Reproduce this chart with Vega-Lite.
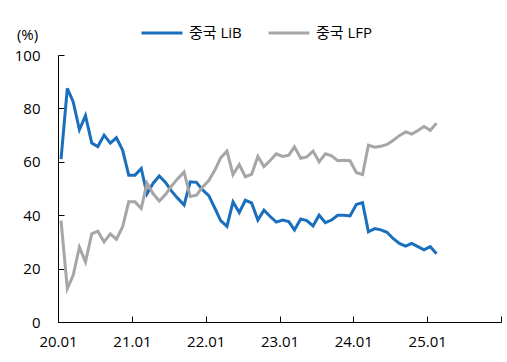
{
  "$schema": "https://vega.github.io/schema/vega-lite/v6.json",
  "width": 443,
  "height": 267,
  "autosize": {"type": "none"},
  "padding": {"left": 58, "top": 55, "right": 6, "bottom": 40},
  "config": {
    "font": "Open Sans, Noto Sans CJK KR",
    "view": {"stroke": null},
    "axis": {"domainColor": "#000000", "tickColor": "#000000", "labelColor": "#000000", "titleColor": "#000000", "grid": false, "domainWidth": 1, "tickWidth": 1}
  },
  "data": {
    "values": [
      {"month": "2020-01-16", "LiB": 61, "LFP": 38},
      {"month": "2020-02-16", "LiB": 87.5, "LFP": 12.5},
      {"month": "2020-03-16", "LiB": 82.5, "LFP": 17.5},
      {"month": "2020-04-16", "LiB": 72, "LFP": 28},
      {"month": "2020-05-16", "LiB": 77.3, "LFP": 22.5},
      {"month": "2020-06-16", "LiB": 67, "LFP": 33},
      {"month": "2020-07-16", "LiB": 65.7, "LFP": 34},
      {"month": "2020-08-16", "LiB": 70, "LFP": 30},
      {"month": "2020-09-16", "LiB": 67, "LFP": 33},
      {"month": "2020-10-16", "LiB": 69, "LFP": 31},
      {"month": "2020-11-16", "LiB": 64.3, "LFP": 35.7},
      {"month": "2020-12-16", "LiB": 55, "LFP": 45},
      {"month": "2021-01-16", "LiB": 55, "LFP": 45},
      {"month": "2021-02-16", "LiB": 57.5, "LFP": 42.5},
      {"month": "2021-03-16", "LiB": 48, "LFP": 52},
      {"month": "2021-04-16", "LiB": 52, "LFP": 48},
      {"month": "2021-05-16", "LiB": 54.7, "LFP": 45.3},
      {"month": "2021-06-16", "LiB": 52.3, "LFP": 47.7},
      {"month": "2021-07-16", "LiB": 49, "LFP": 51},
      {"month": "2021-08-16", "LiB": 46.3, "LFP": 53.7},
      {"month": "2021-09-16", "LiB": 43.8, "LFP": 56.2},
      {"month": "2021-10-16", "LiB": 52.5, "LFP": 47},
      {"month": "2021-11-16", "LiB": 52.3, "LFP": 47.5},
      {"month": "2021-12-16", "LiB": 49.5, "LFP": 50.5},
      {"month": "2022-01-16", "LiB": 47.3, "LFP": 53},
      {"month": "2022-02-16", "LiB": 42.5, "LFP": 57},
      {"month": "2022-03-16", "LiB": 38, "LFP": 61.5},
      {"month": "2022-04-16", "LiB": 35.8, "LFP": 64},
      {"month": "2022-05-16", "LiB": 45, "LFP": 55.2},
      {"month": "2022-06-16", "LiB": 41, "LFP": 59},
      {"month": "2022-07-16", "LiB": 45.6, "LFP": 54.4},
      {"month": "2022-08-16", "LiB": 44.6, "LFP": 55.3},
      {"month": "2022-09-16", "LiB": 38.2, "LFP": 62},
      {"month": "2022-10-16", "LiB": 41.9, "LFP": 58.2},
      {"month": "2022-11-16", "LiB": 39.5, "LFP": 60.5},
      {"month": "2022-12-16", "LiB": 37.4, "LFP": 63},
      {"month": "2023-01-16", "LiB": 38.2, "LFP": 62},
      {"month": "2023-02-16", "LiB": 37.6, "LFP": 62.5},
      {"month": "2023-03-16", "LiB": 34.5, "LFP": 65.6},
      {"month": "2023-04-16", "LiB": 38.6, "LFP": 61.3},
      {"month": "2023-05-16", "LiB": 38, "LFP": 61.8},
      {"month": "2023-06-16", "LiB": 36, "LFP": 64},
      {"month": "2023-07-16", "LiB": 40, "LFP": 60},
      {"month": "2023-08-16", "LiB": 37.2, "LFP": 63},
      {"month": "2023-09-16", "LiB": 38.2, "LFP": 62.2},
      {"month": "2023-10-16", "LiB": 40, "LFP": 60.4},
      {"month": "2023-11-16", "LiB": 40, "LFP": 60.6},
      {"month": "2023-12-16", "LiB": 39.7, "LFP": 60.4},
      {"month": "2024-01-16", "LiB": 44, "LFP": 56},
      {"month": "2024-02-16", "LiB": 44.7, "LFP": 55.2},
      {"month": "2024-03-16", "LiB": 33.8, "LFP": 66.2},
      {"month": "2024-04-16", "LiB": 35, "LFP": 65.5},
      {"month": "2024-05-16", "LiB": 34.5, "LFP": 65.8},
      {"month": "2024-06-16", "LiB": 33.6, "LFP": 66.5},
      {"month": "2024-07-16", "LiB": 31.3, "LFP": 68},
      {"month": "2024-08-16", "LiB": 29.4, "LFP": 69.8},
      {"month": "2024-09-16", "LiB": 28.4, "LFP": 71.2},
      {"month": "2024-10-16", "LiB": 29.4, "LFP": 70.4},
      {"month": "2024-11-16", "LiB": 28.2, "LFP": 71.7},
      {"month": "2024-12-16", "LiB": 27, "LFP": 73.2},
      {"month": "2025-01-16", "LiB": 28.2, "LFP": 71.8},
      {"month": "2025-02-16", "LiB": 25.6, "LFP": 74.4}
    ]
  },
  "transform": [
    {"fold": ["LiB", "LFP"], "as": ["series", "value"]}
  ],
  "mark": {"type": "line", "strokeWidth": 3, "clip": false},
  "encoding": {
    "x": {
      "field": "month",
      "type": "temporal",
      "scale": {
        "type": "utc",
        "domain": [
          {"year": 2020, "month": 1, "date": 1, "utc": true},
          {"year": 2026, "month": 1, "date": 1, "utc": true}
        ]
      },
      "axis": {
        "title": null,
        "values": [
          {"year": 2020, "month": 1, "date": 1, "utc": true},
          {"year": 2021, "month": 1, "date": 1, "utc": true},
          {"year": 2022, "month": 1, "date": 1, "utc": true},
          {"year": 2023, "month": 1, "date": 1, "utc": true},
          {"year": 2024, "month": 1, "date": 1, "utc": true},
          {"year": 2025, "month": 1, "date": 1, "utc": true},
          {"year": 2026, "month": 1, "date": 1, "utc": true}
        ],
        "labelExpr": "utcyear(datum.value) >= 2026 ? '' : utcFormat(datum.value, '%y.%m')",
        "tickSize": -6,
        "labelPadding": 18,
        "labelFontSize": 15,
        "labelFlush": false,
        "labelOverlap": false
      }
    },
    "y": {
      "field": "value",
      "type": "quantitative",
      "scale": {"domain": [0, 100], "nice": false},
      "axis": {
        "values": [0, 20, 40, 60, 80, 100],
        "tickSize": -6,
        "labelPadding": 24,
        "labelFontSize": 15,
        "title": "(%)",
        "titleAngle": 0,
        "titleX": -31,
        "titleY": -21,
        "titleAlign": "center",
        "titleBaseline": "middle",
        "titleFontSize": 15,
        "titleFontWeight": "normal"
      }
    },
    "color": {
      "field": "series",
      "type": "nominal",
      "scale": {"domain": ["LiB", "LFP"], "range": ["#1a6fbd", "#a6a6a6"]},
      "legend": {
        "orient": "none",
        "legendX": 82,
        "legendY": -44,
        "direction": "horizontal",
        "title": null,
        "padding": 0,
        "symbolType": "stroke",
        "symbolSize": 1681,
        "symbolStrokeWidth": 3,
        "labelFontSize": 15,
        "labelColor": "#000000",
        "labelOffset": 5,
        "columnPadding": 20,
        "labelExpr": "'중국 ' + datum.label"
      }
    }
  }
}
